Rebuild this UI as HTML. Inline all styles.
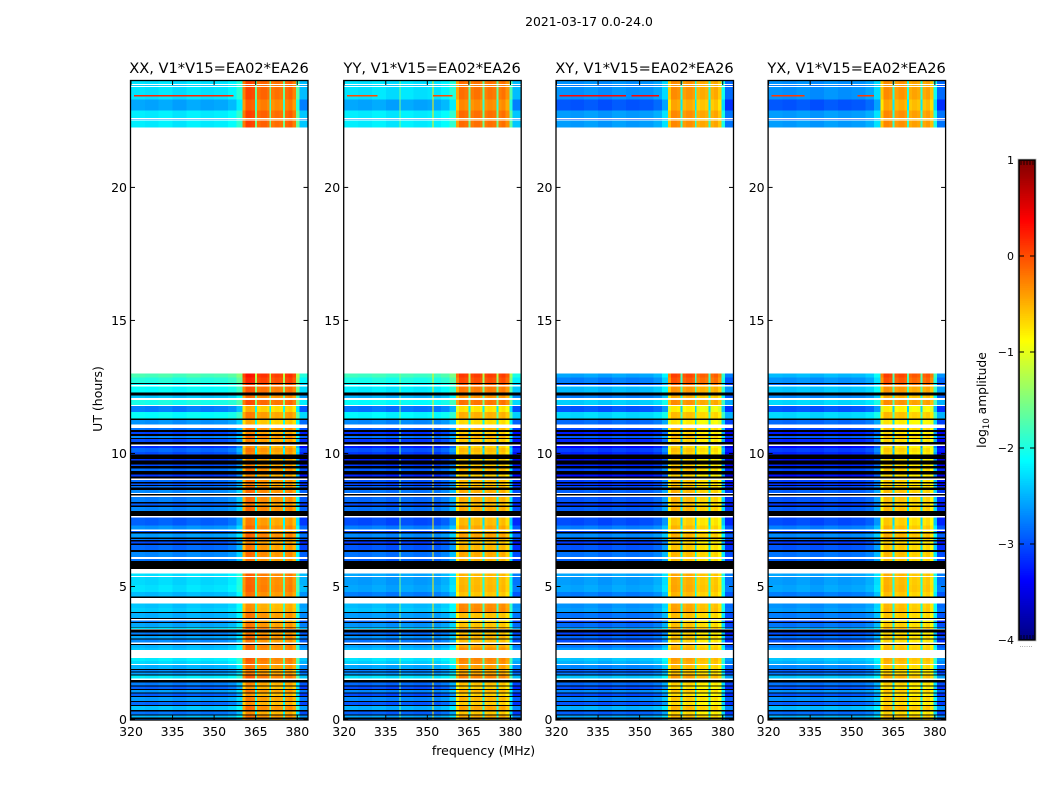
<!DOCTYPE html>
<html>
<head>
<meta charset="utf-8">
<title>2021-03-17 amplitude waterfall</title>
<style>
html,body{margin:0;padding:0;background:#fff;}
svg{display:block;}
text{font-family:"DejaVu Sans","Liberation Sans",sans-serif;fill:#000;}
</style>
</head>
<body>
<svg id="figure" xmlns="http://www.w3.org/2000/svg" width="1050" height="800" viewBox="0 0 1050 800">
<rect x="0" y="0" width="1050" height="800" fill="#ffffff"/>
<text x="589" y="26" font-size="12.4" text-anchor="middle">2021-03-17 0.0-24.0</text>
<text x="483.5" y="755" font-size="12.5" text-anchor="middle">frequency (MHz)</text>
<text x="102" y="399" font-size="12.5" text-anchor="middle" transform="rotate(-90 102 399)">UT (hours)</text>
<text x="986" y="400" font-size="12.3" text-anchor="middle" transform="rotate(-90 986 400)">log<tspan font-size="8.5" dy="3">10</tspan><tspan dy="-3"> amplitude</tspan></text>
</svg>
<script>
// ---------- data ----------
var panelTitles = ['XX, V1*V15=EA02*EA26','YY, V1*V15=EA02*EA26','XY, V1*V15=EA02*EA26','YX, V1*V15=EA02*EA26'];
var xTickValues = [320,335,350,365,380];
var yTickValues = [0,5,10,15,20];
var colorTickValues = [-4,-3,-2,-1,0,1];

// frequency channels (MHz edges), mix toward the bright band, offset, sub-band index
var chanEdges = [320,325,330,335,340,345,350,355,358,360.3,361.4,363.5,364.8,365.5,366.8,369,369.9,370.6,371.8,373.6,374.9,375.6,376.8,378.3,379.6,380.8,383.7];
var chanMix = [0,0,0,0,0,0,0,0.03,0.15,0.86,1,0.98,0.3,0.97,1,0.97,0.3,0.97,1,0.98,0.3,0.97,1,0.92,0.26,0];
var chanOffset = [0,-0.03,0.02,-0.05,0.02,-0.03,0,0.02,0,0,0,0,0,0,0,0,0,0,0,0,0,0,0,0,0,-0.2];
var chanSub = [-1,-1,-1,-1,-1,-1,-1,-1,-1,0,0,0,-1,1,1,1,-1,2,2,2,-1,3,3,3,-1,-1];

// sub-band gains per polarisation
var subGainXX = [0.16,0,-0.06,0.02];
var subGainYY = [0.02,0,0,0];
var subGainXY = [0.04,0,-0.12,-0.1];
var subGainYX = [0.05,0,-0.08,-0.06];

// slow time blocks (hours) and levels per polarisation (log10 amplitude)
var bandStart = [0,1.5,2.7,3.3,4.0,4.6,5.5,7.6,8.9,11,11.8,12.5,22];
var bgXX  = [-2.7,-2.4,-2.6,-2.6,-2.4,-2.35,-2.7,-2.8,-2.9,-2.45,-2.3,-1.85,-2.35];
var hotXX = [-0.42,-0.3,-0.3,-0.38,-0.48,-0.28,-0.3,-0.32,-0.36,-0.52,-0.25,0.1,-0.15];
var bgYY  = [-2.8,-2.45,-2.7,-2.7,-2.45,-2.65,-2.8,-2.9,-3.0,-2.5,-2.4,-1.9,-2.35];
var hotYY = [-0.55,-0.35,-0.5,-0.6,-0.3,-0.55,-0.45,-0.5,-0.55,-0.62,-0.3,0.05,-0.22];
var bgXY  = [-2.8,-2.6,-2.9,-2.9,-2.65,-2.65,-2.8,-3.0,-3.1,-2.65,-2.65,-2.65,-2.75];
var hotXY = [-0.65,-0.5,-0.6,-0.6,-0.45,-0.5,-0.55,-0.55,-0.6,-0.7,-0.45,0.0,-0.38];
var bgYX  = [-2.75,-2.6,-2.85,-2.85,-2.65,-2.65,-2.8,-3.0,-3.1,-2.65,-2.6,-2.55,-2.75];
var hotYX = [-0.65,-0.58,-0.65,-0.65,-0.55,-0.55,-0.55,-0.6,-0.65,-0.7,-0.45,0.0,-0.38];

// time rows: start hour and state (d = data, k = flagged black, w = no data)
var rowStart = [0,.019,.068,.143,.195,.293,.357,.507,.545,.657,.695,.845,.883,.969,1.007,1.108,1.146,1.232,1.27,1.397,
1.484,1.547,1.66,1.698,1.758,1.795,1.859,1.897,2.047,2.085,2.2,2.321,2.61,2.7,2.798,2.836,2.885,3.012,3.05,3.148,
3.2,3.275,3.38,3.41,3.463,3.486,3.625,3.662,3.726,3.786,3.824,4.011,4.049,4.2,4.364,4.564,4.62,4.8,5.05,5.364,
5.401,5.491,5.664,5.965,6.04,6.103,6.291,6.366,6.565,6.618,6.693,6.742,6.791,6.843,6.994,7.042,7.091,7.144,7.3,7.594,
7.643,7.842,7.993,8.045,8.12,8.18,8.368,8.421,8.47,8.519,8.62,8.722,8.77,8.819,8.872,8.932,9.007,9.06,9.135,9.21,
9.334,9.435,9.533,9.585,9.736,9.784,9.961,10.058,10.209,10.284,10.336,10.434,10.535,10.584,10.648,10.723,10.81,10.873,10.96,11.088,
11.249,11.313,11.55,11.786,11.813,12.012,12.087,12.177,12.29,12.526,12.564,12.613,12.65,12.85,13.003,22.254,22.506,22.544,22.566,22.604,
22.9,23.3,23.768,23.806,23.843,23.881];
var rowKind = ['d','k','d','k','d','k','d','k','d','k','d','k','d','k','d','k','d','k','d','k',
'w','d','k','d','k','d','k','d','w','d','d','w','d','d','k','w','d','k','d','k',
'd','k','w','d','k','d','k','d','w','k','d','k','d','d','w','k','d','d','d','w',
'd','w','k','d','w','d','k','d','k','d','k','d','k','d','k','d','w','d','d','w',
'k','d','k','d','k','d','w','k','w','d','k','d','k','d','k','d','w','k','d','k',
'd','k','d','k','d','k','d','d','d','w','k','d','k','d','k','d','k','d','w','d',
'k','d','d','w','d','w','d','k','d','w','d','k','d','d','w','d','w','d','w','d',
'd','d','w','d','w','d'];
// per data row deviation, listed in order of data rows from 0 h upward
var dataRowDelta = [-0.1,0.25,-0.1,0.3,-0.15,0.1,-0.2,0.1,-0.2,-0.05,
0.2,-0.2,-0.3,-0.1,0.1,0.2,0,0.1,-0.1,0.05,
-0.15,0.35,0.05,-0.15,0.1,0.05,0,-0.1,0.1,0.05,
0.1,-0.1,0,-0.15,-0.3,-0.05,0.1,-0.25,0.05,-0.2,
0.1,-0.1,0.05,0.1,0,-0.15,0.05,-0.2,0.1,-0.1,
-0.2,-0.1,0.05,-0.25,-0.1,0.2,-0.15,0.1,-0.2,0.35,
-0.3,0.3,-0.1,0.2,-0.3,-0.1,0.1,0.15,-0.25,0.15,
-0.2,0.1,0,0.1,0,-0.05,0.05,-0.1,0,0.05,
0.1,0,0.1,-0.1,0.05,0,-0.05,0.1,0,-0.1];

// narrow interference: one time row at rfiHour, channel spans per polarisation
var rfiHour = 23.47;
var rfiXX = [321,357];
var rfiYY = [321,332,352,359];
var rfiXY = [321,345,347,357];
var rfiYX = [321,333,352,358];
var rfiLevel = [-0.1,-0.3,0.05,-0.2];
// always-on narrow channels in YY (MHz, log amplitude)
var lineFreqYY = [339.9,351.9];
var lineLevelYY = [-1.5,-0.8];

// ---------- scales ----------
var panelLeft = [131,344.2,556.5,768.6];
var panelW = 176.5;
var plotTop = 81, plotBottom = 719.5;
function xScale(f, p){ return panelLeft[p] + (f-320)/(383.7-320)*panelW; }
function yScale(h){ return plotBottom - h/24*(plotBottom-plotTop); }
function cbY(v){ return 640 - (v+4)/5*480; }
function clamp(a){ return Math.max(0,Math.min(1,a)); }
function jet(v){
  var t = clamp((v+4)/5);
  var r = clamp(1.5-Math.abs(4*t-3)), g = clamp(1.5-Math.abs(4*t-2)), b = clamp(1.5-Math.abs(4*t-1));
  return 'rgb('+Math.round(r*255)+','+Math.round(g*255)+','+Math.round(b*255)+')';
}
var NS = 'http://www.w3.org/2000/svg';
var svg = document.getElementById('figure');
function mk(tag, geom, parent){
  var el = document.createElementNS(NS, tag);
  for (var k in geom) el.setAttribute(k, geom[k]);
  (parent||svg).appendChild(el);
  return el;
}
function bandIndex(h){
  var b = 0;
  for (var i=0;i<bandStart.length;i++) if (h>=bandStart[i]) b=i;
  return b;
}

var allBg = [bgXX,bgYY,bgXY,bgYX], allHot = [hotXX,hotYY,hotXY,hotYX];
var allGain = [subGainXX,subGainYY,subGainXY,subGainYX];
var allRfi = [rfiXX,rfiYY,rfiXY,rfiYX];

// ---------- panels ----------
for (var p=0;p<4;p++){
  var g = mk('g',{});
  
  
  var dataIdx = 0;
  for (var r=0;r<rowStart.length;r++){
    var h0 = rowStart[r], h1 = r+1<rowStart.length ? rowStart[r+1] : 24;
    var yT = yScale(h1), yB = yScale(h0);
    var kind = rowKind[r];
    if (kind==='w') continue;
    if (kind==='k'){
      var bar = mk('rect',{x:xScale(320,p),y:yT,width:panelW,height:yB-yT,fill:'#000','shape-rendering':'crispEdges'},g);
      
      
      continue;
    }
    var b = bandIndex(h0), d = dataRowDelta[dataIdx] || 0;
    dataIdx++;
    for (var c=0;c<chanMix.length;c++){
      var m = chanMix[c];
      var v = allBg[p][b]*(1-m) + allHot[p][b]*m + chanOffset[c] + d*(1-0.6*m);
      if (chanSub[c]>=0) v += allGain[p][chanSub[c]];
      var x0 = xScale(chanEdges[c],p), x1 = xScale(chanEdges[c+1],p);
      var cell = mk('rect',{x:x0,y:yT,width:x1-x0+0.3,height:yB-yT,fill:jet(v),'shape-rendering':'crispEdges'},g);
      
      
    }
    if (p===1){
      for (var q=0;q<lineFreqYY.length;q++){
        var ln = mk('rect',{x:xScale(lineFreqYY[q],p),y:yT,width:1,height:yB-yT,fill:jet(lineLevelYY[q]),'shape-rendering':'crispEdges'},g);
        
        
      }
    }
  }
  // interference row
  var spans = allRfi[p];
  for (var s=0;s<spans.length;s+=2){
    var rf = mk('rect',{x:xScale(spans[s],p),y:yScale(rfiHour),width:xScale(spans[s+1],p)-xScale(spans[s],p),height:1.2,fill:jet(rfiLevel[p]+0.3),'shape-rendering':'crispEdges'},g);
    
    
  }
  // frame
  var frame = mk('rect',{x:xScale(320,p)-0.5,y:plotTop-0.5,width:panelW+1,height:plotBottom-plotTop+1,fill:'none',stroke:'#000','stroke-width':1.3});
  
  
  // title
  var title = mk('text',{x:xScale(320,p)+88,y:73,'font-size':14.6,'text-anchor':'middle'});
  title.textContent = panelTitles[p];
  
  
  // x ticks
  xTickValues.forEach(function(f){
    var x = xScale(f,p);
    var tb = mk('line',{x1:x,x2:x,y1:plotBottom,y2:plotBottom-4,stroke:'#000','stroke-width':1});
    
    
    var tt = mk('line',{x1:x,x2:x,y1:plotTop,y2:plotTop+4,stroke:'#000','stroke-width':1});
    
    
    var lb = mk('text',{x:x,y:736,'font-size':12.5,'text-anchor':'middle'});
    lb.textContent = f;
    
    
  });
  // y ticks
  yTickValues.forEach(function(h){
    var y = yScale(h);
    var tl = mk('line',{x1:xScale(320,p),x2:xScale(320,p)+4,y1:y,y2:y,stroke:'#000','stroke-width':1});
    
    
    var tr = mk('line',{x1:xScale(320,p)+panelW,x2:xScale(320,p)+panelW-4,y1:y,y2:y,stroke:'#000','stroke-width':1});
    
    
    var lb = mk('text',{x:xScale(320,p)-4,y:y+4.5,'font-size':12.5,'text-anchor':'end'});
    lb.textContent = h;
    
    
  });
}

// ---------- colorbar ----------
var cbX = 1019, cbW = 16;
var cbG = mk('g',{});


for (var i=0;i<256;i++){
  var v0 = -4 + i/256*5, v1 = -4 + (i+1)/256*5;
  var sw = mk('rect',{x:cbX,y:cbY(v1),width:cbW,height:cbY(v0)-cbY(v1)+0.4,fill:jet((v0+v1)/2),'shape-rendering':'crispEdges'},cbG);
  
  
}
var cbFrame = mk('rect',{x:cbX,y:160,width:cbW,height:480,fill:'none',stroke:'#000','stroke-width':1.6},cbG);


var cbOutline = mk('rect',{x:cbX-1.2,y:159,width:cbW+2.4,height:482,fill:'none',stroke:'#bbb','stroke-width':0.6},cbG);


colorTickValues.forEach(function(v){
  var y = cbY(v);
  var t1 = mk('line',{x1:cbX,x2:cbX+5,y1:y,y2:y,stroke:'#000','stroke-width':1},cbG);
  
  
  var t2 = mk('line',{x1:cbX+cbW,x2:cbX+cbW-5,y1:y,y2:y,stroke:'#000','stroke-width':1},cbG);
  
  
  var lb = mk('text',{x:1014,y:y+4,'font-size':11,'text-anchor':'end'},cbG);
  lb.textContent = v<0 ? '\u2212'+(-v) : String(v);
  
  
});
[1021,1024,1027,1030,1033].forEach(function(x){
  var mt = mk('line',{x1:x,x2:x,y1:161,y2:165,stroke:'#000','stroke-width':0.8},cbG);
  
  
  var mb = mk('line',{x1:x,x2:x,y1:639,y2:635,stroke:'#000','stroke-width':0.8},cbG);
  
  
});
var dots = mk('text',{x:1026,y:647,'font-size':7,'text-anchor':'middle',style:'fill:#888'},cbG);
dots.textContent = '......';


</script>
</body>
</html>
